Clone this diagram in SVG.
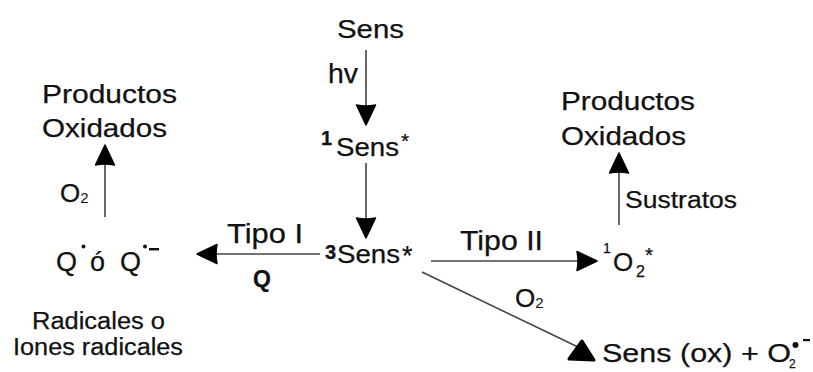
<svg xmlns="http://www.w3.org/2000/svg" width="813" height="372" viewBox="0 0 813 372">
  <style>
    text { font-family: "Liberation Sans", Arial, sans-serif; fill: #111; stroke: #111; stroke-width: 0.25; }
    .big { font-size: 26px; }
    .mid { font-size: 27px; }
    .sm { font-size: 23px; }
    .sup { font-size: 20px; }
    .sub { font-size: 15px; }
    .b { font-weight: bold; }
    .conn line { stroke: #444; stroke-width: 1.6; fill: none; }
    .conn .arr { marker-end: url(#head); }
  </style>
  <defs>
    <marker id="head" markerUnits="userSpaceOnUse" markerWidth="22" markerHeight="22" refX="21" refY="10.5" orient="auto">
      <path d="M1,1 L21,10.5 L1,20 Q3,10.5 1,1 Z" fill="#000" stroke="#000" stroke-width="1.5" stroke-linejoin="round"/>
    </marker>
  </defs>
  <rect width="813" height="372" fill="#fff"/>

  <g class="conn">
    <line class="arr" x1="366" y1="50" x2="366" y2="125"/>
    <line class="arr" x1="366" y1="163" x2="366" y2="238"/>
    <line class="arr" x1="320" y1="254" x2="197" y2="254"/>
    <line class="arr" x1="105" y1="217" x2="105" y2="145"/>
    <line class="arr" x1="431" y1="261" x2="597" y2="261"/>
    <line class="arr" x1="619" y1="225" x2="619" y2="153"/>
    <line x1="422" y1="272" x2="578" y2="347"/>
    <path d="M569,359 L582,341 L594,360 Z" fill="#000" stroke="#000" stroke-width="3" stroke-linejoin="round"/>
  </g>

  <g id="sens">
    <text class="big" x="337" y="38" textLength="67" lengthAdjust="spacingAndGlyphs">Sens</text>
  </g>
  <g id="hv">
    <text class="mid" x="328" y="83" textLength="30" lengthAdjust="spacingAndGlyphs">hv</text>
  </g>
  <g id="sens-singlet">
    <text class="sup b" x="321" y="145">1</text>
    <text class="big" x="336" y="156" textLength="63" lengthAdjust="spacingAndGlyphs">Sens</text>
    <text x="401" y="148" font-size="21">*</text>
  </g>
  <g id="sens-triplet">
    <text class="sup b" x="325" y="259">3</text>
    <text class="big" x="337" y="263" textLength="63" lengthAdjust="spacingAndGlyphs">Sens</text>
    <text class="mid" x="402" y="265">*</text>
  </g>

  <g id="tipo1-label">
    <text class="mid" x="227" y="243" textLength="76" lengthAdjust="spacingAndGlyphs">Tipo I</text>
    <text class="b" x="253" y="287" font-size="23">Q</text>
  </g>

  <g id="radicals">
    <text class="mid" x="56" y="271">Q</text>
    <circle cx="83.5" cy="246.5" r="2" fill="#111"/>
    <text class="mid" x="90" y="271">ó</text>
    <text class="mid" x="120" y="271">Q</text>
    <circle cx="145" cy="246.5" r="2" fill="#111"/>
    <rect x="149" y="248" width="10" height="2.4" fill="#111"/>
  </g>
  <g id="radicals-caption">
    <text class="sm" x="32" y="329" textLength="133" lengthAdjust="spacingAndGlyphs">Radicales o</text>
    <text class="sm" x="13" y="355" textLength="170" lengthAdjust="spacingAndGlyphs">Iones radicales</text>
  </g>
  <g id="o2-left">
    <text class="big" x="60" y="202">O<tspan class="sub" dy="1" stroke-width="0">2</tspan></text>
  </g>
  <g id="products-left">
    <text class="big" x="42" y="103" textLength="135" lengthAdjust="spacingAndGlyphs">Productos</text>
    <text class="big" x="42" y="137" textLength="125" lengthAdjust="spacingAndGlyphs">Oxidados</text>
  </g>

  <g id="tipo2-label">
    <text class="mid" x="460" y="250" textLength="83" lengthAdjust="spacingAndGlyphs">Tipo II</text>
  </g>
  <g id="singlet-oxygen">
    <text x="603" y="253" font-size="14">1</text>
    <text class="big" x="613" y="271">O</text>
    <text x="636" y="277" font-size="16">2</text>
    <text x="645" y="262" font-size="21">*</text>
  </g>
  <g id="substrates">
    <text class="sm" x="625" y="208" textLength="112" lengthAdjust="spacingAndGlyphs">Sustratos</text>
  </g>
  <g id="products-right">
    <text class="big" x="561" y="110" textLength="134" lengthAdjust="spacingAndGlyphs">Productos</text>
    <text class="big" x="561" y="145" textLength="125" lengthAdjust="spacingAndGlyphs">Oxidados</text>
  </g>

  <g id="o2-diag">
    <text class="big" x="515" y="307">O<tspan class="sub" dy="1" stroke-width="0">2</tspan></text>
  </g>
  <g id="sens-ox">
    <text class="big" x="602" y="362" textLength="189" lengthAdjust="spacingAndGlyphs">Sens (ox) + O</text>
    <text x="789" y="368" font-size="12" stroke-width="0">2</text>
    <circle cx="795.5" cy="345" r="3" fill="#111"/>
    <rect x="803" y="339" width="7" height="2.2" fill="#111"/>
  </g>
</svg>
